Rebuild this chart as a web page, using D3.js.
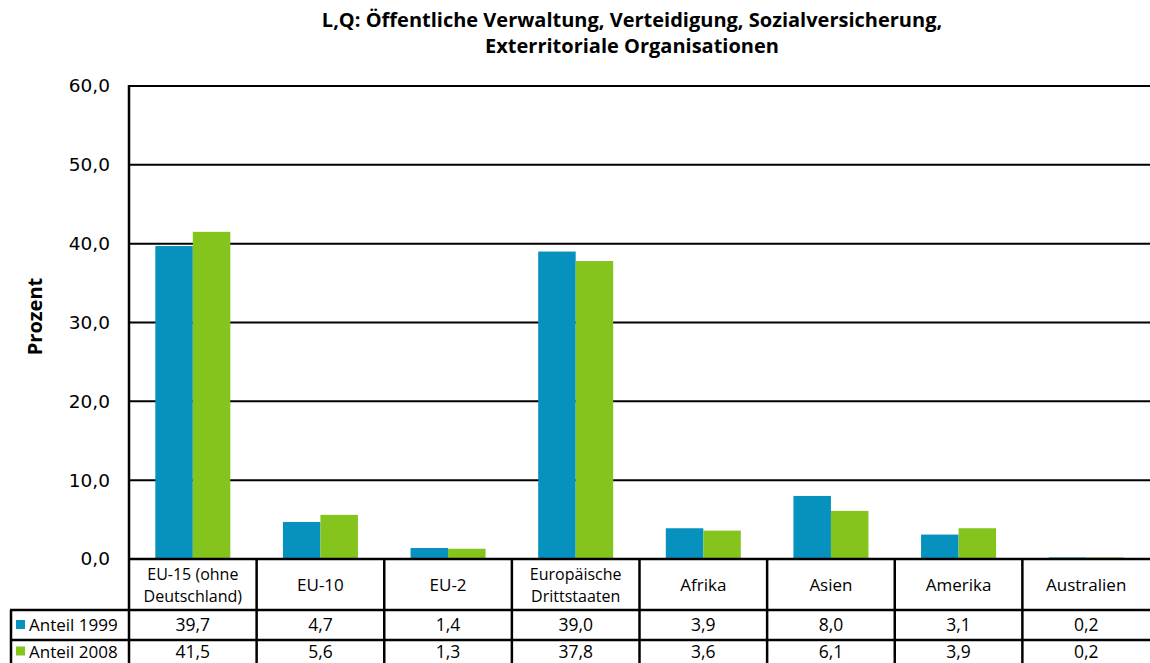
<!DOCTYPE html>
<html><head><meta charset="utf-8">
<script src="https://cdn.jsdelivr.net/npm/d3@7"></script>
<style>body{margin:0;background:#fff}svg{display:block}</style>
</head><body>
<svg id="c" width="1150" height="663"></svg>
<script>
const categories = [["EU-15 (ohne","Deutschland)"],["EU-10"],["EU-2"],["Europäische","Drittstaaten"],["Afrika"],["Asien"],["Amerika"],["Australien"]];
const series = ["Anteil 1999","Anteil 2008"];
const values1999 = [39.7,4.7,1.4,39.0,3.9,8.0,3.1,0.2];
const values2008 = [41.5,5.6,1.3,37.8,3.6,6.1,3.9,0.2];
const yTicks = [0,10,20,30,40,50,60];
const colors = ["#0791BF","#85C41D"];
const title = ["L,Q: Öffentliche Verwaltung, Verteidigung, Sozialversicherung,","Exterritoriale Organisationen"];

const svg = d3.select("#c");
const font = "'Open Sans', 'Noto Sans', sans-serif";
const L = 129, R = 1150, T = 86, B = 559;
const x = d3.scaleBand().domain(d3.range(categories.length)).range([L, R]);
const y = d3.scaleLinear().domain([0, 60]).range([B, T]);
const fmt = v => d3.format(".1f")(v).replace(".", ",");

// title
const tt = svg.append("text").attr("text-anchor","middle")
  .attr("font-family", font).attr("font-weight","bold").attr("font-size", 20);
tt.selectAll("tspan").data(title).join("tspan")
  .attr("x", 632).attr("y", (d,i) => 27 + i*26).text(d => d);

// gridlines
svg.append("g").selectAll("line").data(yTicks.filter(t => t > 0)).join("line")
  .attr("x1", L).attr("x2", R).attr("y1", d => y(d)).attr("y2", d => y(d))
  .attr("stroke","#000").attr("stroke-width",2);

// y axis labels
const yAxis = d3.axisLeft(y).tickValues(yTicks).tickFormat(fmt).tickSize(0).tickPadding(19);
const ga = svg.append("g").attr("transform", `translate(${L},0)`).call(yAxis);
ga.select(".domain").remove();
ga.selectAll("text").attr("font-family","'DejaVu Sans', sans-serif").attr("font-size",18.5).attr("fill","#000");

svg.append("text").attr("transform", `translate(42,${(T+B)/2 - 6}) rotate(-90)`)
  .attr("text-anchor","middle").attr("font-family",font).attr("font-weight","bold")
  .attr("font-size",20).text("Prozent");

// bars
const bw = 37.5;
const data = [values1999, values2008];
data.forEach((vals, s) => {
  svg.append("g").selectAll("rect").data(vals).join("rect")
    .attr("x", (d,i) => x(i) + x.bandwidth()/2 - bw + s*bw)
    .attr("width", bw)
    .attr("y", d => y(d)).attr("height", d => B - y(d))
    .attr("fill", colors[s]);
});

// table
const rowTop = [B, 610, 640, 663];
const tbl = svg.append("g");
categories.forEach((lines, i) => {
  const cx = x(i) + x.bandwidth()/2;
  const cy = (rowTop[0] + rowTop[1]) / 2;
  const fs = lines.length > 1 ? 16 : 17;
  lines.forEach((s, j) => {
    tbl.append("text").attr("text-anchor","middle").attr("font-family",font).attr("font-size",fs)
      .attr("x", cx).attr("y", cy + 6 + (j - (lines.length-1)/2) * 22).text(s);
  });
});
data.forEach((vals, s) => {
  const cy = (rowTop[s+1] + rowTop[s+2]) / 2 + 6;
  tbl.append("g").selectAll("text").data(vals).join("text")
    .attr("x", (d,i) => x(i) + x.bandwidth()/2).attr("y", cy)
    .attr("text-anchor","middle").attr("font-family",font).attr("font-size",17.5).text(d => fmt(d));
  tbl.append("rect").attr("x", 16).attr("y", cy - 11).attr("width", 9).attr("height", 9).attr("fill", colors[s]);
  tbl.append("text").attr("x", 29).attr("y", cy).attr("font-family",font).attr("font-size",17).text(series[s]);
});
tbl.append("line").attr("x1", L).attr("x2", R).attr("y1", B).attr("y2", B).attr("stroke","#000").attr("stroke-width",2.5);
[rowTop[1], rowTop[2]].forEach(yy => tbl.append("line").attr("x1", 10).attr("x2", R).attr("y1", yy).attr("y2", yy).attr("stroke","#000").attr("stroke-width",2.5));
tbl.append("line").attr("x1", 11).attr("x2", 11).attr("y1", rowTop[1]).attr("y2", 663).attr("stroke","#000").attr("stroke-width",2.5);
d3.range(categories.length).forEach(i => {
  tbl.append("line").attr("x1", x(i)).attr("x2", x(i)).attr("y1", i === 0 ? T - 1 : B).attr("y2", 663).attr("stroke","#000").attr("stroke-width",2.5);
});
</script>
</body></html>
